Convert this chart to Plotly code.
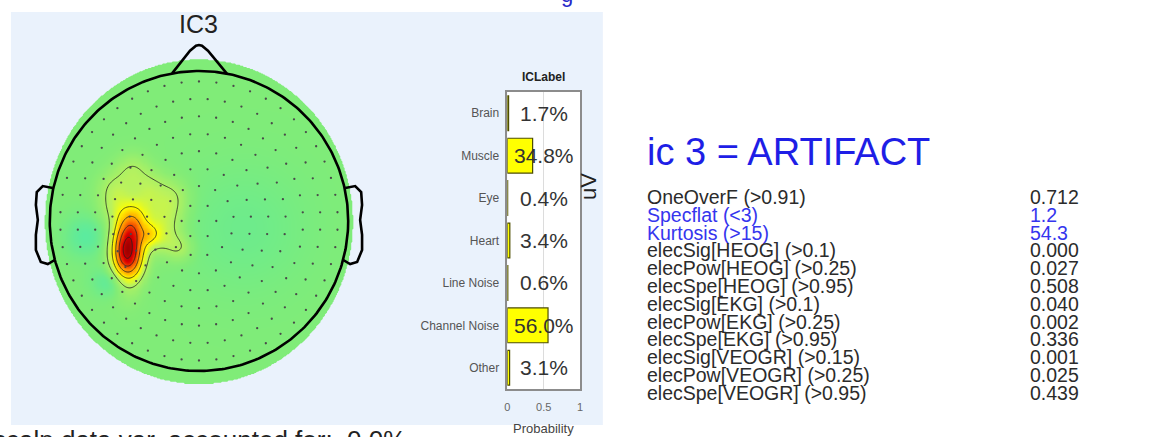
import numpy as np
import plotly.graph_objects as go

W, H = 1152, 437
FONT = "Liberation Sans, Arial, sans-serif"

# ---------------- data ----------------
# ICLabel class probabilities for component 3
CLASSES = ["Brain", "Muscle", "Eye", "Heart", "Line Noise", "Channel Noise", "Other"]
PROBS = [0.017, 0.348, 0.004, 0.034, 0.006, 0.560, 0.031]

# artifact detection metrics (threshold in brackets) and their values
METRIC_NAMES = [
    "OneOverF (>0.91)", "Specflat (<3)", "Kurtosis (>15)",
    "elecSig[HEOG] (>0.1)", "elecPow[HEOG] (>0.25)", "elecSpe[HEOG] (>0.95)",
    "elecSig[EKG] (>0.1)", "elecPow[EKG] (>0.25)", "elecSpe[EKG] (>0.95)",
    "elecSig[VEOGR] (>0.15)", "elecPow[VEOGR] (>0.25)", "elecSpe[VEOGR] (>0.95)",
]
METRIC_VALUES = ["0.712", "1.2", "54.3", "0.000", "0.027", "0.508",
                 "0.040", "0.002", "0.336", "0.001", "0.025", "0.439"]
METRIC_FLAGGED = [False, True, True, False, False, False,
                  False, False, False, False, False, False]

# scalp-map source terms (head radius = 1, nose up)
# focal peak, its upper-right tongue, the broad plateau patches, and weak negative areas
SRC_X = [-0.48, -0.44, -0.33,
         -0.447, -0.567, -0.327, -0.18, -0.56, -0.38, -0.213, -0.227, -0.327, -0.13,
         -0.55, -0.76, 0.30]
SRC_Y = [-0.20, -0.02, -0.09,
         0.34, 0.22, 0.227, 0.167, 0.087, 0.093, 0.04, -0.113, -0.073, -0.18,
         -0.40, -0.10, -0.05]
SRC_AMP = [0.90, 0.20, 0.14,
           0.11, 0.11, 0.11, 0.11, 0.11, 0.11, 0.11, 0.11, 0.11, 0.10,
           -0.12, -0.08, -0.04]
SRC_SX = [0.07, 0.06, 0.045,
          0.08, 0.08, 0.08, 0.08, 0.08, 0.08, 0.08, 0.08, 0.08, 0.06,
          0.10, 0.10, 0.30]
SRC_SY = [0.14, 0.08, 0.05,
          0.08, 0.08, 0.08, 0.08, 0.08, 0.08, 0.08, 0.08, 0.08, 0.06,
          0.07, 0.10, 0.30]

# electrode montage: ring radii and number of sensors per ring
RING_RADII = [0.0, 0.116, 0.233, 0.349, 0.465, 0.581, 0.698, 0.814, 0.93]
RING_COUNTS = [1, 6, 13, 19, 25, 31, 38, 44, 50]

# ---------------- helpers ----------------
def px(x):
    return x / W


def py(y):
    return 1 - y / H


# ---------------- scalp field ----------------
gx = np.linspace(-1.1, 1.1, 301)
gy = np.linspace(-1.1, 1.1, 301)
XX, YY = np.meshgrid(gx, gy)
Z = np.zeros_like(XX)
for sx0, sy0, a, wx, wy in zip(SRC_X, SRC_Y, SRC_AMP, SRC_SX, SRC_SY):
    Z += a * np.exp(-((XX - sx0) ** 2) / (2 * wx ** 2) - ((YY - sy0) ** 2) / (2 * wy ** 2))
mask = (XX / 1.035) ** 2 + ((YY + 0.005) / 1.085) ** 2 > 1
Z[mask] = np.nan

JET = [
    [0.0, "#000080"], [0.11, "#0000FF"], [0.36, "#00E8FF"], [0.5, "#80EC78"],
    [0.58, "#BCF25C"], [0.645, "#FFFF00"], [0.78, "#FF8000"], [0.89, "#DD0000"],
    [1.0, "#7A0000"],
]

# electrode positions from the ring montage
ex, ey = [], []
for k, (r, n) in enumerate(zip(RING_RADII, RING_COUNTS)):
    off = (k % 2) * np.pi / max(n, 1)
    for j in range(n):
        t = off + 2 * np.pi * j / n + np.pi / 2
        ex.append(r * np.cos(t))
        ey.append(r * np.sin(t))

# head outline, nose and ears
th = np.linspace(0, 2 * np.pi, 361)
head_x, head_y = np.cos(th), np.sin(th)
nose_x = [-0.18, -0.06, -0.02, 0.0, 0.02, 0.06, 0.187]
nose_y = [0.984, 1.135, 1.168, 1.173, 1.168, 1.135, 0.982]
ear_x = [-0.98, -1.047, -1.087, -1.093, -1.08, -1.093, -1.093, -1.06, -1.013, -0.967]
ear_y = [0.22, 0.233, 0.193, 0.107, 0.007, -0.093, -0.193, -0.273, -0.287, -0.26]

fig = go.Figure()

fig.add_trace(go.Contour(
    x=gx, y=gy, z=Z, zmin=-1, zmax=1, colorscale=JET, showscale=False,
    autocontour=False, connectgaps=False,
    contours=dict(start=0.12, end=0.9, size=0.18, coloring="heatmap"),
    line=dict(color="#222222", width=0.8), hoverinfo="skip",
    xaxis="x", yaxis="y",
))
fig.add_trace(go.Scatter(
    x=ex, y=ey, mode="markers", marker=dict(size=2.3, color="#4a4a4a"),
    hoverinfo="skip", xaxis="x", yaxis="y",
))
line_style = dict(color="black", width=2.6)
for xs, ys in [(head_x, head_y), (nose_x, nose_y), (ear_x, ear_y),
               ([-v for v in ear_x], ear_y)]:
    fig.add_trace(go.Scatter(x=xs, y=ys, mode="lines", line=line_style,
                             hoverinfo="skip", xaxis="x", yaxis="y"))

# ICLabel bars
cat_idx = list(range(len(CLASSES)))
fig.add_trace(go.Bar(
    x=PROBS, y=cat_idx, orientation="h", width=0.82,
    marker=dict(color="#FFFF00", line=dict(color="#4E4E00", width=1.2)),
    hoverinfo="skip", xaxis="x2", yaxis="y2",
))

annotations = []
for i, p in enumerate(PROBS):
    annotations.append(dict(
        x=0.5, y=i, xref="x2", yref="y2", text=f"{p * 100:.1f}%", showarrow=False,
        font=dict(family=FONT, size=21, color="#333333"), xanchor="center", yanchor="middle",
    ))

annotations += [
    dict(x=px(197), y=py(24), text="IC3", font=dict(family=FONT, size=25, color="#222222")),
    dict(x=px(543), y=py(77), text="<b>ICLabel</b>", font=dict(family=FONT, size=12, color="#222222")),
    dict(x=px(543), y=py(428), text="Probability", font=dict(family=FONT, size=13, color="#444444")),
    dict(x=px(589), y=py(186), text="uV", textangle=-90, font=dict(family=FONT, size=22, color="#222222")),
    dict(x=px(-12), y=py(440), text="scalp data var. accounted for:  0.0%", xanchor="left",
         font=dict(family=FONT, size=26, color="#222222")),
    dict(x=px(567), y=py(-6), text="g", font=dict(family=FONT, size=22, color="#2828C8")),
    dict(x=px(645), y=py(152), text="ic 3 = ARTIFACT", xanchor="left",
         font=dict(family=FONT, size=38, color="#1E1EE6")),
]
for a in annotations:
    a.setdefault("xref", "paper")
    a.setdefault("yref", "paper")
    a.setdefault("showarrow", False)
    a.setdefault("yanchor", "middle")
    a.setdefault("xanchor", "center")

for i, (name, val, flag) in enumerate(zip(METRIC_NAMES, METRIC_VALUES, METRIC_FLAGGED)):
    col = "#3535EE" if flag else "#2B2B2B"
    yc = py(197 + 17.8 * i)
    annotations.append(dict(x=px(645), y=yc, xref="paper", yref="paper", text=name,
                            showarrow=False, xanchor="left", yanchor="middle",
                            font=dict(family=FONT, size=19.5, color=col)))
    annotations.append(dict(x=px(1030), y=yc, xref="paper", yref="paper", text=val,
                            showarrow=False, xanchor="left", yanchor="middle",
                            font=dict(family=FONT, size=19.5, color=col)))

shapes = [
    dict(type="rect", xref="paper", yref="paper", x0=px(8), x1=px(603), y0=py(425), y1=py(12),
         fillcolor="#EAF2FC", line=dict(width=0), layer="below"),
    dict(type="rect", xref="x2 domain", yref="y2 domain", x0=0, x1=1, y0=0, y1=1,
         fillcolor="white", line=dict(width=0), layer="below"),
]

hidden = dict(visible=False, showgrid=False, zeroline=False)
fig.update_layout(
    width=W, height=H, margin=dict(l=0, r=0, t=0, b=0),
    paper_bgcolor="white", plot_bgcolor="rgba(0,0,0,0)",
    showlegend=False, font=dict(family=FONT),
    xaxis=dict(domain=[px(17), px(377)], range=[-1.2, 1.2], **hidden),
    yaxis=dict(domain=[py(401), py(41)], range=[-1.2, 1.2], **hidden),
    xaxis2=dict(domain=[px(507), px(580)], range=[0, 1], anchor="y2",
                tickvals=[0, 0.5, 1], ticktext=["0", "0.5", "1"],
                showgrid=True, gridcolor="#DCDCDC", gridwidth=1, zeroline=False,
                showline=True, mirror=True, linecolor="#8C8C8C", linewidth=1.5,
                ticks="", ticklabelstandoff=7, tickfont=dict(size=11, color="#666666")),
    yaxis2=dict(domain=[py(389), py(92)], range=[6.5, -0.5], anchor="x2",
                tickvals=cat_idx, ticktext=CLASSES, showgrid=False, zeroline=False,
                showline=True, mirror=True, linecolor="#8C8C8C", linewidth=1.5,
                ticks="", ticklabelstandoff=4, tickfont=dict(size=12, color="#555555")),
    annotations=annotations, shapes=shapes,
)

fig.write_html("out.html")
